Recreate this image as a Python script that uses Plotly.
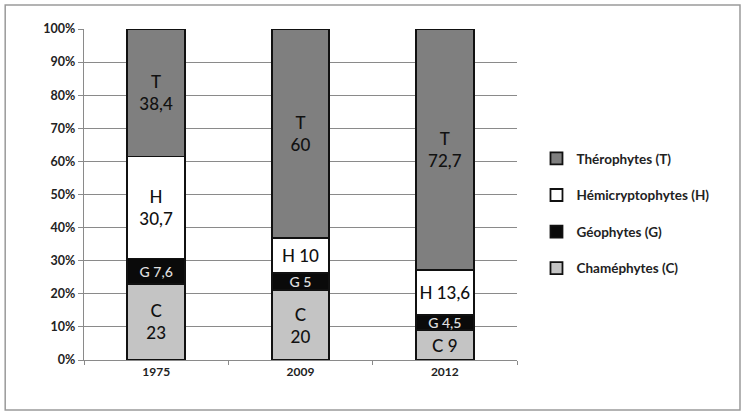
import plotly.graph_objects as go

years = ["1975", "2009", "2012"]
series_names = ["Chaméphytes (C)", "Géophytes (G)", "Hémicryptophytes (H)", "Thérophytes (T)"]
letters = ["C", "G", "H", "T"]
values_C = [23, 20, 9]
values_G = [7.6, 5, 4.5]
values_H = [30.7, 10, 13.6]
values_T = [38.4, 60, 72.7]
# separator between letter and value in each label ("br" = two lines)
sep_C = ["br", "br", " "]
sep_G = [" ", " ", " "]
sep_H = ["br", " ", " "]
sep_T = ["br", "br", "br"]
y_ticks = [0, 10, 20, 30, 40, 50, 60, 70, 80, 90, 100]

colors = ["#c4c4c4", "#0a0a0a", "#ffffff", "#7f7f7f"]
text_colors = ["#111111", "#e0e0e0", "#111111", "#111111"]
text_sizes = [17, 14, 17, 17]

def fmt(v):
    s = ("%g" % v).replace(".", ",")
    return s

fig = go.Figure()
n = len(series_names)
for i, (name, letter, vals, seps, col, tc, ts) in enumerate(zip(
        series_names, letters, [values_C, values_G, values_H, values_T],
        [sep_C, sep_G, sep_H, sep_T], colors, text_colors, text_sizes)):
    texts = [letter + ("<br>" if s == "br" else " ") + fmt(v) for v, s in zip(vals, seps)]
    fig.add_trace(go.Bar(
        x=years, y=vals, name=name, text=texts,
        textposition="inside", insidetextanchor="middle", constraintext="none",
        textfont=dict(color=tc, size=ts, family="Lato", weight=500),
        marker=dict(color=col, line=dict(color="#111111", width=1.8)),
        legendgroup=name, legendrank=n - i, hoverinfo="skip",
    ))

fig.update_layout(
    barmode="stack", barnorm="percent", bargap=0.6,
    width=745, height=420,
    margin=dict(l=84, r=228, t=29, b=60),
    paper_bgcolor="white", plot_bgcolor="white",
    font=dict(family="Lato", color="#222222"),
    legend=dict(x=1.045, y=0.655, xanchor="left", yanchor="top",
                traceorder="grouped", tracegroupgap=16,
                font=dict(size=13.5, color="#222222", weight="bold"),
                itemwidth=30),
    showlegend=True,
)
fig.update_yaxes(range=[0, 100], tickvals=y_ticks,
                 ticktext=[f"{t}%" for t in y_ticks],
                 showgrid=True, gridcolor="#8a8a8a", gridwidth=1.3,
                 showline=True, linecolor="#8a8a8a", linewidth=1.3,
                 ticks="outside", ticklen=5, tickcolor="#8a8a8a",
                 tickfont=dict(size=12.5, color="#222222", family="Lato", weight="bold"),
                 zeroline=False)
fig.update_xaxes(showline=True, linecolor="#8a8a8a", linewidth=1.3,
                 ticks="outside", ticklen=4, tickcolor="#8a8a8a",
                 tickson="boundaries",
                 tickfont=dict(size=12, color="#222222", family="Lato", weight="bold"))

fig.add_shape(type="rect", xref="paper", yref="paper",
              x0=-0.182, x1=1.515, y0=-0.151, y1=1.0725,
              line=dict(color="#9a9a9a", width=1.5), fillcolor="rgba(0,0,0,0)",
              layer="below")

fig.write_html("out.html")
